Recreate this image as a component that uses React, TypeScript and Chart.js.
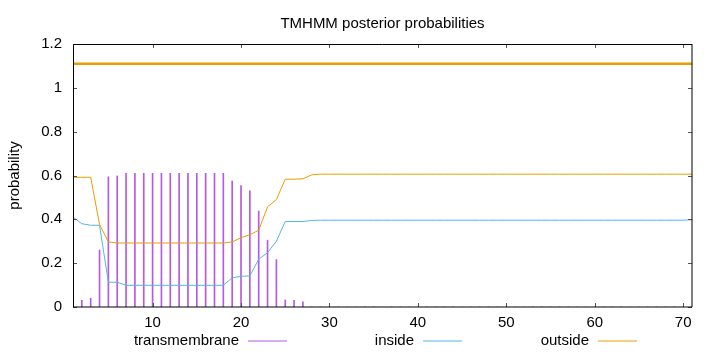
import React, { useEffect, useRef } from "react";
import { Chart, registerables } from "chart.js";

Chart.register(...registerables);

const TITLE = "TMHMM posterior probabilities";
const Y_LABEL = "probability";

const RESIDUES = [
  1, 2, 3, 4, 5, 6, 7, 8, 9, 10, 11, 12, 13, 14, 15, 16, 17, 18, 19, 20,
  21, 22, 23, 24, 25, 26, 27, 28, 29, 30, 31, 32, 33, 34, 35, 36, 37, 38, 39, 40,
  41, 42, 43, 44, 45, 46, 47, 48, 49, 50, 51, 52, 53, 54, 55, 56, 57, 58, 59, 60,
  61, 62, 63, 64, 65, 66, 67, 68, 69, 70, 71,
];

const TRANSMEMBRANE = [
  0, 0.03, 0.04, 0.26, 0.594, 0.598, 0.61, 0.61, 0.61, 0.61,
  0.61, 0.61, 0.61, 0.61, 0.61, 0.61, 0.61, 0.61, 0.575, 0.554,
  0.53, 0.438, 0.305, 0.216, 0.032, 0.03, 0.024, 0, 0, 0,
  0, 0, 0, 0, 0, 0, 0, 0, 0, 0,
  0, 0, 0, 0, 0, 0, 0, 0, 0, 0,
  0, 0, 0, 0, 0, 0, 0, 0, 0, 0,
  0, 0, 0, 0, 0, 0, 0, 0, 0, 0, 0,
];

const INSIDE = [
  0.41, 0.38, 0.373, 0.373, 0.113, 0.113, 0.099, 0.099, 0.099, 0.099,
  0.099, 0.099, 0.099, 0.099, 0.099, 0.099, 0.099, 0.099, 0.133, 0.14,
  0.142, 0.218, 0.248, 0.3, 0.39, 0.39, 0.39, 0.395, 0.396, 0.396,
  0.396, 0.396, 0.396, 0.396, 0.396, 0.396, 0.396, 0.396, 0.396, 0.396,
  0.396, 0.396, 0.396, 0.396, 0.396, 0.396, 0.396, 0.396, 0.396, 0.396,
  0.396, 0.396, 0.396, 0.396, 0.396, 0.396, 0.396, 0.396, 0.396, 0.396,
  0.396, 0.396, 0.396, 0.396, 0.396, 0.396, 0.396, 0.396, 0.396, 0.396, 0.398,
];

const OUTSIDE = [
  0.592, 0.592, 0.592, 0.377, 0.297, 0.292, 0.292, 0.292, 0.292, 0.292,
  0.292, 0.292, 0.292, 0.292, 0.292, 0.292, 0.292, 0.292, 0.297, 0.316,
  0.33, 0.35, 0.457, 0.49, 0.583, 0.583, 0.585, 0.603, 0.606, 0.606,
  0.606, 0.606, 0.606, 0.606, 0.606, 0.606, 0.606, 0.606, 0.606, 0.606,
  0.606, 0.606, 0.606, 0.606, 0.606, 0.606, 0.606, 0.606, 0.606, 0.606,
  0.606, 0.606, 0.606, 0.606, 0.606, 0.606, 0.606, 0.606, 0.606, 0.606,
  0.606, 0.606, 0.606, 0.606, 0.606, 0.606, 0.606, 0.606, 0.606, 0.606, 0.606,
];

// Predicted topology: whole sequence outside, drawn as a band at 1.11
const TOPOLOGY_START = [1];
const TOPOLOGY_END = [71];
const TOPOLOGY_LEVEL = 1.11;

const X_TICKS = [10, 20, 30, 40, 50, 60, 70];
const Y_TICKS = [0, 0.2, 0.4, 0.6, 0.8, 1, 1.2];

const PURPLE = "#b35ae6";
const BLUE = "#56b4e9";
const ORANGE = "#e69f00";
const FONT = "'Liberation Sans', Arial, sans-serif";

const decorPlugin = {
  id: "gnuplotDecor",
  afterDraw(chart: any) {
    const ctx = chart.ctx as CanvasRenderingContext2D;
    const { left, right, top, bottom } = chart.chartArea;
    const xs = chart.scales.x;
    const ys = chart.scales.y;
    ctx.save();

    // inward ticks (mirrored)
    ctx.strokeStyle = "#555";
    ctx.lineWidth = 1;
    ctx.beginPath();
    X_TICKS.forEach((v) => {
      const px = Math.round(xs.getPixelForValue(v)) + 0.5;
      ctx.moveTo(px, bottom);
      ctx.lineTo(px, bottom - 4);
      ctx.moveTo(px, top);
      ctx.lineTo(px, top + 4);
    });
    Y_TICKS.forEach((v) => {
      const py = Math.round(ys.getPixelForValue(v)) + 0.5;
      ctx.moveTo(left, py);
      ctx.lineTo(left + 4, py);
      ctx.moveTo(right, py);
      ctx.lineTo(right - 4, py);
    });
    ctx.stroke();

    // frame
    ctx.strokeStyle = "#000";
    ctx.lineWidth = 1;
    ctx.beginPath();
    ctx.moveTo(left + 0.5, bottom);
    ctx.lineTo(left + 0.5, top + 0.5);
    ctx.lineTo(right, top + 0.5);
    ctx.stroke();
    ctx.strokeStyle = "#000";
    ctx.beginPath();
    ctx.moveTo(left, bottom);
    ctx.lineTo(right, bottom);
    ctx.lineTo(right, top);
    ctx.stroke();

    // title
    ctx.fillStyle = "#000";
    ctx.font = `15px ${FONT}`;
    ctx.textAlign = "center";
    ctx.textBaseline = "alphabetic";
    ctx.fillText(TITLE, (left + right) / 2, 28);

    // y axis label
    ctx.save();
    ctx.translate(19, (top + bottom) / 2);
    ctx.rotate(-Math.PI / 2);
    ctx.fillText(Y_LABEL, 0, 0);
    ctx.restore();

    // legend
    const entries = chart.data.datasets.filter((d: any) => d.label);
    entries.forEach((d: any, i: number) => {
      const textRight = 239 + i * 175;
      ctx.textAlign = "right";
      ctx.fillStyle = "#000";
      ctx.fillText(d.label, textRight, 345);
      ctx.strokeStyle = d.borderColor || d.backgroundColor;
      ctx.lineWidth = 1;
      ctx.beginPath();
      ctx.moveTo(textRight + 9, 341);
      ctx.lineTo(textRight + 48, 341);
      ctx.stroke();
    });

    ctx.restore();
  },
};

export default function App() {
  const ref = useRef<HTMLCanvasElement | null>(null);

  useEffect(() => {
    document.body.style.margin = "0";
    if (!ref.current) return;
    const chart = new Chart(ref.current, {
      type: "line",
      data: {
        datasets: [
          {
            type: "bar",
            label: "transmembrane",
            data: RESIDUES.map((r, i) => ({ x: r, y: TRANSMEMBRANE[i] })),
            backgroundColor: PURPLE,
            borderColor: PURPLE,
            borderWidth: 0,
            barThickness: 1,
            order: 4,
          } as any,
          {
            label: "inside",
            data: RESIDUES.map((r, i) => ({ x: r, y: INSIDE[i] })),
            borderColor: BLUE,
            borderWidth: 1,
            pointRadius: 0,
            tension: 0,
            fill: false,
            order: 3,
          },
          {
            label: "outside",
            data: RESIDUES.map((r, i) => ({ x: r, y: OUTSIDE[i] })),
            borderColor: ORANGE,
            borderWidth: 1,
            pointRadius: 0,
            tension: 0,
            fill: false,
            order: 2,
          },
          {
            label: "",
            data: [
              { x: TOPOLOGY_START[0], y: TOPOLOGY_LEVEL },
              { x: TOPOLOGY_END[0], y: TOPOLOGY_LEVEL },
            ],
            borderColor: ORANGE,
            borderWidth: 2.5,
            pointRadius: 0,
            tension: 0,
            fill: false,
            order: 1,
          },
        ],
      },
      options: {
        animation: false,
        responsive: false,
        maintainAspectRatio: false,
        layout: { padding: { left: 0, right: 28, top: 44, bottom: 0 } },
        plugins: {
          legend: { display: false },
          tooltip: { enabled: false },
          title: { display: false },
        },
        scales: {
          x: {
            type: "linear",
            min: 1,
            max: 71,
            offset: false,
            grid: { display: false, drawTicks: false, offset: false },
            border: { display: false },
            afterBuildTicks: (s: any) => {
              s.ticks = X_TICKS.map((v) => ({ value: v }));
            },
            afterFit: (s: any) => {
              s.height = 45;
            },
            ticks: {
              padding: 7,
              maxRotation: 0,
              autoSkip: false,
              color: "#000",
              font: { family: FONT, size: 15 },
              callback: (v: any) => String(v),
            },
          },
          y: {
            type: "linear",
            min: 0,
            max: 1.2,
            grid: { display: false, drawTicks: false },
            border: { display: false },
            afterBuildTicks: (s: any) => {
              s.ticks = Y_TICKS.map((v) => ({ value: v }));
            },
            afterFit: (s: any) => {
              s.width = 73;
            },
            ticks: {
              padding: 11,
              color: "#000",
              font: { family: FONT, size: 15 },
              callback: (v: any) => String(Math.round(Number(v) * 10) / 10),
            },
          },
        },
      } as any,
      plugins: [decorPlugin],
    });
    return () => chart.destroy();
  }, []);

  return (
    <div style={{ width: 720, height: 352 }}>
      <canvas ref={ref} width={720} height={352} style={{ display: "block", width: 720, height: 352 }} />
    </div>
  );
}
